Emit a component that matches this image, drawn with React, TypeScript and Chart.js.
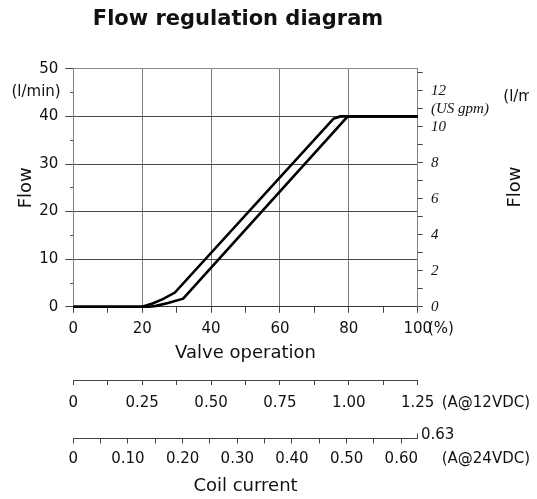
import React, { useEffect, useRef } from 'react';
import { Chart, registerables } from 'chart.js';

Chart.register(...registerables);

const TITLE = 'Flow regulation diagram';
const X_TITLE = 'Valve operation';
const Y_TITLE = 'Flow';
const CURRENT_TITLE = 'Coil current';
const X_UNIT = '(%)';
const Y_UNIT = '(l/min)';
const GPM_UNIT = '(US gpm)';
const A12_UNIT = '(A@12VDC)';
const A24_UNIT = '(A@24VDC)';
const A12_MAX = 1.25;
const A24_END = 0.63;
const LPM_PER_GPM = 3.785411784;

// Opening curve (left / upper)
const openX = [0, 20, 23, 26, 29.5, 75.5, 77.5, 100];
const openY = [0, 0, 0.7, 1.6, 3.0, 39.5, 40, 40];
// Closing curve (right / lower)
const closeX = [0, 22, 24, 27.5, 31.9, 79.7, 100];
const closeY = [0, 0, 0.2, 0.8, 1.7, 40, 40];

// clipped neighbouring chart labels
const neighbourTicks = ['40', '30', '20', '10'];

const FONT = "'DejaVu Sans', Verdana, sans-serif";
const SERIF = "'Liberation Serif', 'DejaVu Serif', serif";

const isMult = (v: number, step: number) => Math.abs(v / step - Math.round(v / step)) < 1e-6;
const fmt2 = (v: number) => (v === 0 ? '0' : v.toFixed(2));

const textPlugin = {
  id: 'extraText',
  afterDraw(chart: any) {
    const ctx = chart.ctx as CanvasRenderingContext2D;
    const { x, x12, x24 } = chart.scales;
    ctx.save();
    ctx.fillStyle = '#111';
    // title
    ctx.font = `bold 21px ${FONT}`;
    ctx.textAlign = 'center';
    ctx.textBaseline = 'alphabetic';
    ctx.fillText(TITLE, 230, 17.3);

    ctx.font = `15px ${FONT}`;
    ctx.textAlign = 'left';
    ctx.textBaseline = 'middle';
    ctx.fillText(X_UNIT, x.right + 10.3, 321);
    ctx.fillText(A12_UNIT, x12.right + 24, 394.7);
    ctx.fillText(A24_UNIT, x24.right + 24, 451.5);
    const endX = x24.getPixelForValue(A24_END);
    ctx.fillText(String(A24_END), endX + 3.3, 427);
    ctx.strokeStyle = '#444';
    ctx.lineWidth = 1;
    ctx.beginPath();
    ctx.moveTo(Math.round(endX) - 0.5, x24.top);
    ctx.lineTo(Math.round(endX) - 0.5, x24.top - 5);
    ctx.stroke();

    // neighbouring (clipped) chart
    const ny = [67, 125, 181, 240];
    neighbourTicks.forEach((t, i) => ctx.fillText(t, 525, ny[i]));
    ctx.fillText(Y_UNIT, 495.3, 88.7);
    ctx.font = `18px ${FONT}`;
    ctx.save();
    ctx.translate(507, 179);
    ctx.rotate(-Math.PI / 2);
    ctx.textAlign = 'center';
    ctx.fillText(Y_TITLE, 0, 0);
    ctx.restore();
    ctx.restore();
  },
};

export default function App() {
  const ref = useRef<HTMLCanvasElement>(null);
  useEffect(() => {
    const canvas = ref.current!;
    Chart.defaults.font.family = FONT;
    Chart.defaults.color = '#111';
    const lineDs = (xs: number[], ys: number[]) => ({
      data: xs.map((v, i) => ({ x: v, y: ys[i] })),
      borderColor: '#000',
      backgroundColor: '#000',
      borderWidth: 2.6,
      pointRadius: 0,
      tension: 0,
      fill: false,
      clip: 5,
      xAxisID: 'x',
      yAxisID: 'y',
    });
    const chart = new Chart(canvas, {
      type: 'line',
      data: { datasets: [lineDs(closeX, closeY), lineDs(openX, openY)] as any },
      options: {
        animation: false,
        responsive: true,
        maintainAspectRatio: false,
        layout: { padding: { top: 60.8, left: 0, right: 0, bottom: 0 } },
        plugins: { legend: { display: false }, tooltip: { enabled: false }, title: { display: false } },
        scales: {
          x: {
            type: 'linear', position: 'bottom', weight: 0, min: 0, max: 100,
            ticks: { stepSize: 10, autoSkip: false, maxRotation: 0, padding: 7, font: { size: 15 },
              callback: (v: any) => (v % 20 === 0 ? String(v) : '') },
            grid: { color: (c: any) => (c.tick && c.tick.value % 20 === 0 ? '#7a7a7a' : 'rgba(0,0,0,0)'),
              tickColor: '#444', tickLength: 6, lineWidth: 1 },
            border: { display: true, color: '#333', width: 1 },
            title: { display: true, text: X_TITLE, font: { size: 18 }, padding: { top: 0, bottom: 15.6 } },
            afterFit: (s: any) => { s.height = 73.2; },
          },
          x12: {
            type: 'linear', position: 'bottom', weight: 1, min: 0, max: A12_MAX,
            ticks: { stepSize: 0.125, autoSkip: false, maxRotation: 0, padding: 8.7, font: { size: 15 },
              callback: (v: any) => (isMult(v, 0.25) ? fmt2(v) : '') },
            grid: { drawOnChartArea: false, tickColor: '#444', color: '#444', tickLength: 5 },
            border: { display: true, color: '#444' },
            afterFit: (s: any) => { s.height = 58.5; },
          },
          x24: {
            type: 'linear', position: 'bottom', weight: 2, min: 0, max: A24_END,
            ticks: { stepSize: 0.05, includeBounds: false, autoSkip: false, maxRotation: 0, padding: 7, font: { size: 15 },
              callback: (v: any) => (isMult(v, 0.1) ? fmt2(v) : '') },
            grid: { drawOnChartArea: false, tickColor: '#444', color: '#444', tickLength: 5 },
            border: { display: true, color: '#444' },
            title: { display: true, text: CURRENT_TITLE, font: { size: 18 }, padding: { top: 0, bottom: -6.3 } },
            afterFit: (s: any) => { s.height = 52.5; },
          },
          y: {
            type: 'linear', position: 'left', weight: 1, min: 0, max: 50,
            ticks: { stepSize: 10, autoSkip: false, padding: 7, font: { size: 15 } },
            grid: { color: (c: any) => (c.tick && c.tick.value === 50 ? '#8a8a8a' : '#4a4a4a'),
              tickColor: '#444', tickLength: 8 },
            border: { color: '#808080' },
            title: { display: true, text: Y_TITLE, font: { size: 18 }, padding: { top: 8, bottom: 0 } },
            afterFit: (s: any) => { s.width = 65.3; },
          },
          yMinor: {
            type: 'linear', position: 'left', weight: 0, min: 0, max: 50,
            ticks: { stepSize: 5, autoSkip: false, mirror: true, padding: -61.8, font: { size: 15 },
              callback: (v: any) => (v === 45 ? Y_UNIT : '') },
            grid: { drawOnChartArea: false, tickColor: '#444', tickLength: 3 },
            border: { display: false },
            afterFit: (s: any) => { s.width = 0; },
          },
          y2: {
            type: 'linear', position: 'right', min: 0, max: 50 / LPM_PER_GPM,
            ticks: { stepSize: 1, includeBounds: false, autoSkip: false, padding: 8.3,
              font: { family: SERIF, style: 'italic', size: 15 },
              callback: (v: any) => (v === 11 ? GPM_UNIT : v % 2 === 0 ? String(v) : '') },
            grid: { drawOnChartArea: false, tickColor: '#444', tickLength: 5 },
            border: { color: '#808080' },
            afterFit: (s: any) => { s.width = 119.3; },
          },
        } as any,
      },
      plugins: [textPlugin],
    });
    return () => chart.destroy();
  }, []);
  return (
    <div style={{ width: 529, height: 483, position: 'relative' }}>
      <canvas ref={ref} />
    </div>
  );
}
